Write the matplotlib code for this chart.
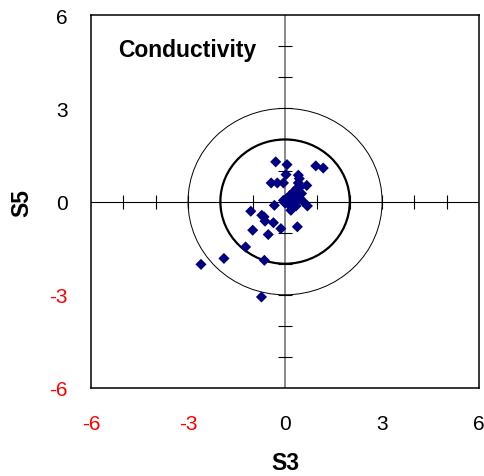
import numpy as np
import matplotlib
matplotlib.use("Agg")
import matplotlib.pyplot as plt
from matplotlib.patches import Circle

plt.rcParams['font.family'] = ['Liberation Sans', 'DejaVu Sans']

# S3 / S5 scores for conductivity
s3 = [-0.29, 0.06, 0.95, 1.18, 0.03, 0.41, -0.43, -0.24, -0.05, 0.44,
      0.41, 0.67, 0.36, 0.26, 0.15, 0.51, 0.05, -0.05, 0.26, 0.46,
      0.56, 0.20, 0.34, 0.69, -0.33, 0.18, 0.38, -0.13, -0.36, -0.65,
      -0.52, -1.06, -0.72, -0.62, -1.00, -1.22, -0.64, -1.89, -2.60, -0.73,
      0.10, 0.30, 0.40, 0.12, 0.35, 0.45, 0.00]
s5 = [1.28, 1.19, 1.15, 1.08, 0.87, 0.85, 0.60, 0.60, 0.60, 0.74,
      0.60, 0.52, 0.42, 0.31, 0.20, 0.26, 0.10, 0.04, 0.04, 0.10,
      0.00, -0.06, -0.14, -0.14, -0.12, -0.28, -0.81, -0.87, -0.68, -0.49,
      -1.06, -0.31, -0.44, -0.63, -0.92, -1.46, -1.89, -1.83, -2.02, -3.07,
      0.05, 0.20, 0.35, -0.10, 0.10, 0.45, -0.05]

ticks = [-6, -3, 0, 3, 6]
minor = [-5, -4, -3, -2, -1, 1, 2, 3, 4, 5]

fig = plt.figure(figsize=(4.84, 4.77), dpi=100)
ax = fig.add_axes([0.188, 0.1845, 0.802, 0.7815])
ax.set_xlim(-6, 6)
ax.set_ylim(-6, 6)

# zero lines with small cross ticks
ax.axvline(0, color='#808080', lw=1.3, zorder=1)
ax.axhline(0, color='black', lw=0.8, zorder=1)
ax.plot(minor, [0] * len(minor), ls='none', marker='|', ms=10, mew=0.8, color='black', zorder=1)
ax.plot([0] * len(minor), minor, ls='none', marker='_', ms=10, mew=0.8, color='black', zorder=1)

ax.add_patch(Circle((0, 0), 2, fill=False, ec='black', lw=1.6, zorder=2))
ax.add_patch(Circle((0, 0), 3, fill=False, ec='black', lw=0.7, zorder=2))

ax.scatter(s3, s5, marker='D', s=32, color='#000080', edgecolors='none', zorder=3)

ax.text(-5.15, 4.9, 'Conductivity', fontsize=16.5, fontweight='bold', va='center', ha='left')

ax.set_xticks(ticks)
ax.set_yticks(ticks)
ax.xaxis.set_major_formatter(plt.FuncFormatter(lambda v, p: f'{v:g}'))
ax.yaxis.set_major_formatter(plt.FuncFormatter(lambda v, p: f'{v:g}'))
ax.tick_params(length=0, labelsize=15)
ax.tick_params(axis='x', pad=19)
ax.tick_params(axis='y', pad=17)
fig.canvas.draw()
for lab in ax.get_xticklabels() + ax.get_yticklabels():
    if lab.get_text().startswith('-'):
        lab.set_color('red')

ax.set_xlabel('S3', fontsize=16.5, fontweight='bold', va='center')
ax.set_ylabel('S5', fontsize=16.5, fontweight='bold', va='center')
ax.xaxis.set_label_coords(0.5, -0.201)
ax.yaxis.set_label_coords(-0.178, 0.5)

for sp in ax.spines.values():
    sp.set_linewidth(1.1)

fig.savefig('out.png', dpi=100)
